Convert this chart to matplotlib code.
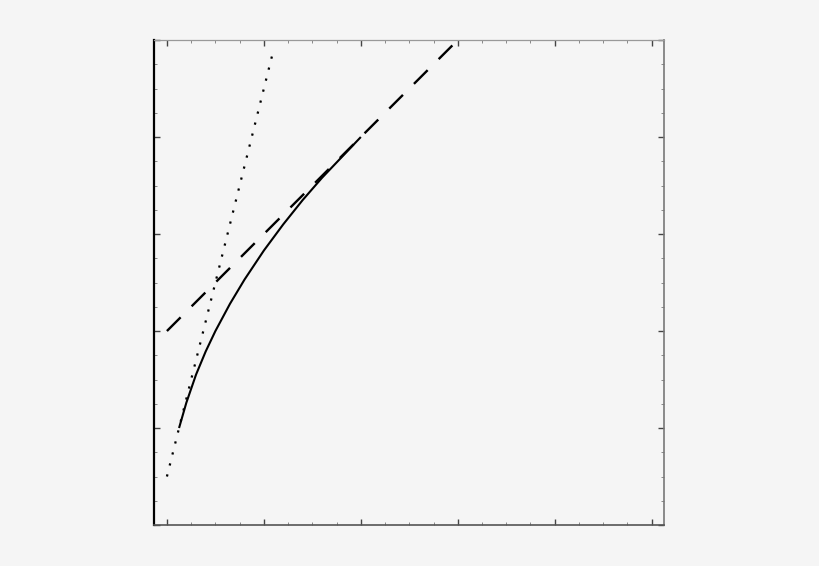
import matplotlib
matplotlib.use("Agg")
import matplotlib.pyplot as plt
from matplotlib.ticker import MultipleLocator, NullFormatter

# curve
curve_x = [0.125, 0.2, 0.3, 0.4, 0.5, 0.65, 0.8, 1.0, 1.2, 1.4, 1.6, 1.8, 2.0]
curve_y = [1.0, 1.26, 1.55, 1.79, 2.0, 2.28, 2.53, 2.83, 3.10, 3.35, 3.58, 3.79, 4.0]

# steep tangent (dotted)
steep_x = [0.0, 1.1]
steep_y = [0.5, 4.9]

# shallow tangent (dashed)
flat_x = [0.0, 3.0]
flat_y = [2.0, 5.0]

bg = "#f5f5f5"
fig = plt.figure(figsize=(8.2, 5.66), dpi=100, facecolor=bg)
ax = fig.add_axes([0.1882, 0.0724, 0.6219, 0.8569], facecolor=bg)

ax.plot(curve_x, curve_y, color="black", lw=1.5, solid_capstyle="butt")
ax.plot(steep_x, steep_y, color="black", lw=1.6, linestyle=(0, (1, 4.1)))
ax.plot(flat_x, flat_y, color="black", lw=1.7, linestyle=(0, (8.2, 6.6)))

ax.set_xlim(-0.13, 5.13)
ax.set_ylim(0, 5)

ax.xaxis.set_major_locator(MultipleLocator(1))
ax.xaxis.set_minor_locator(MultipleLocator(0.25))
ax.yaxis.set_major_locator(MultipleLocator(1))
ax.yaxis.set_minor_locator(MultipleLocator(0.25))
ax.xaxis.set_major_formatter(NullFormatter())
ax.yaxis.set_major_formatter(NullFormatter())
ax.tick_params(which="major", direction="in", top=True, right=True,
               length=4, width=1.0, colors="#444444")
ax.tick_params(which="minor", direction="in", top=True, right=True,
               length=2, width=0.7, colors="#888888")

ax.spines["left"].set_color("black")
ax.spines["left"].set_linewidth(1.6)
ax.spines["bottom"].set_color("#555555")
ax.spines["bottom"].set_linewidth(1.2)
ax.spines["right"].set_color("#777777")
ax.spines["right"].set_linewidth(1.2)
ax.spines["top"].set_color("#999999")
ax.spines["top"].set_linewidth(0.9)

plt.savefig("out.png", dpi=100, facecolor=bg)
